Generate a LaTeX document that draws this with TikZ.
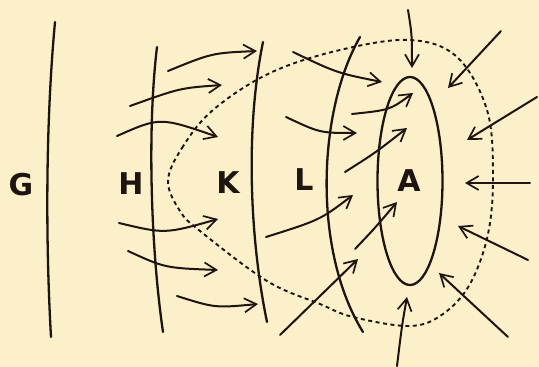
\documentclass[tikz,border=0pt]{standalone}
\usepackage{fontspec}
\setmainfont{DejaVu Sans}
\usetikzlibrary{arrows.meta}
\definecolor{paper}{RGB}{251,240,202}
\definecolor{ink}{RGB}{30,20,16}
\tikzset{
  field/.style={draw=ink, line width=2.3pt, line cap=round},
  flow/.style={draw=ink, line width=2pt, line cap=round, -{Straight Barb[length=12pt,width=14pt,line width=1.7pt]}},
  zone/.style={draw=ink, line width=1.9pt, dash pattern=on 4pt off 3.5pt},
  lbl/.style={font=\fontsize{30}{32}\selectfont\bfseries, text=ink, inner sep=0pt}
}
\begin{document}
\begin{tikzpicture}[x=1pt,y=-1pt]
\fill[paper] (0,0) rectangle (539,367);
\useasboundingbox (0,0) rectangle (539,367);
% labels
\node[lbl] (G) at (21,185) {G};
\node[lbl] (H) at (131,184) {H};
\node[lbl] (K) at (228,183) {K};
\node[lbl] (L) at (304,180) {L};
\node[lbl] (A) at (409,181) {A};
% boundary lines
\draw[field] (55,22) .. controls (45,130) and (46,250) .. (51,337);
\draw[field] (157,47) .. controls (147,130) and (151,250) .. (163,332);
\draw[field] (263,42) .. controls (245,130) and (250,240) .. (267,322);
\draw[field] (360,37) .. controls (318,110) and (312,250) .. (363,332);
% ellipse A
\draw[field] (410,181) ellipse [x radius=32.5, y radius=104];
% dotted zone
\draw[zone] plot[smooth cycle, tension=0.6] coordinates {
  (168,181) (182,148) (213,110) (270,73) (340,50) (410,40) (457,57) (487,110)
  (493,175) (488,234) (470,284) (443,314) (410,326) (353,317) (320,304)
  (267,281) (200,231) (180,211)};
% left-side arrows
\coordinate (a1s) at (168,71);  \coordinate (a1e) at (257,51);
\coordinate (a2s) at (130,106); \coordinate (a2e) at (222,85);
\coordinate (a3s) at (117,136); \coordinate (a3e) at (218,137);
\coordinate (a4s) at (119,223); \coordinate (a4e) at (218,219);
\coordinate (a5s) at (128,251); \coordinate (a5e) at (218,270);
\coordinate (a6s) at (177,296); \coordinate (a6e) at (258,304);
\draw[flow] (a1s) .. controls (212,53) .. (a1e);
\draw[flow] (a2s) .. controls (180,88) .. (a2e);
\draw[flow] (a3s) .. controls (160,117) .. (a3e);
\draw[flow] (a4s) .. controls (165,234) .. (a4e);
\draw[flow] (a5s) .. controls (165,268) .. (a5e);
\draw[flow] (a6s) .. controls (215,308) .. (a6e);
% middle arrows
\coordinate (a7s) at (293,52);  \coordinate (a7e) at (382,82);
\coordinate (a11s) at (352,114); \coordinate (a11e) at (413,93);
\coordinate (a12s) at (286,117); \coordinate (a12e) at (357,133);
\coordinate (a13s) at (345,172); \coordinate (a13e) at (407,128);
\coordinate (a16s) at (266,237); \coordinate (a16e) at (353,195);
\coordinate (a17s) at (355,249); \coordinate (a17e) at (397,202);
\coordinate (a18s) at (280,335); \coordinate (a18e) at (358,259);
\draw[flow] (a7s) .. controls (337,73) .. (a7e);
\draw[flow] (a11s) .. controls (390,110) .. (a11e);
\draw[flow] (a12s) .. controls (320,133) .. (a12e);
\draw[flow] (a13s) .. controls (375,153) .. (a13e);
\draw[flow] (a16s) .. controls (320,220) .. (a16e);
\draw[flow] (a17s) .. controls (375,228) .. (a17e);
\draw[flow] (a18s) -- (a18e);
% converging arrows
\coordinate (a8s) at (408,10);   \coordinate (a8e) at (412,68);
\coordinate (a9s) at (501,31);   \coordinate (a9e) at (448,88);
\coordinate (a10s) at (537,97);  \coordinate (a10e) at (467,140);
\coordinate (a14s) at (530,183); \coordinate (a14e) at (465,183);
\coordinate (a21s) at (528,260); \coordinate (a21e) at (458,226);
\coordinate (a20s) at (508,337); \coordinate (a20e) at (439,273);
\coordinate (a19s) at (397,366); \coordinate (a19e) at (407,297);
\draw[flow] (a8s) .. controls (412,35) .. (a8e);
\draw[flow] (a9s) -- (a9e);
\draw[flow] (a10s) -- (a10e);
\draw[flow] (a14s) -- (a14e);
\draw[flow] (a21s) -- (a21e);
\draw[flow] (a20s) -- (a20e);
\draw[flow] (a19s) .. controls (402,325) .. (a19e);
\end{tikzpicture}
\end{document}
